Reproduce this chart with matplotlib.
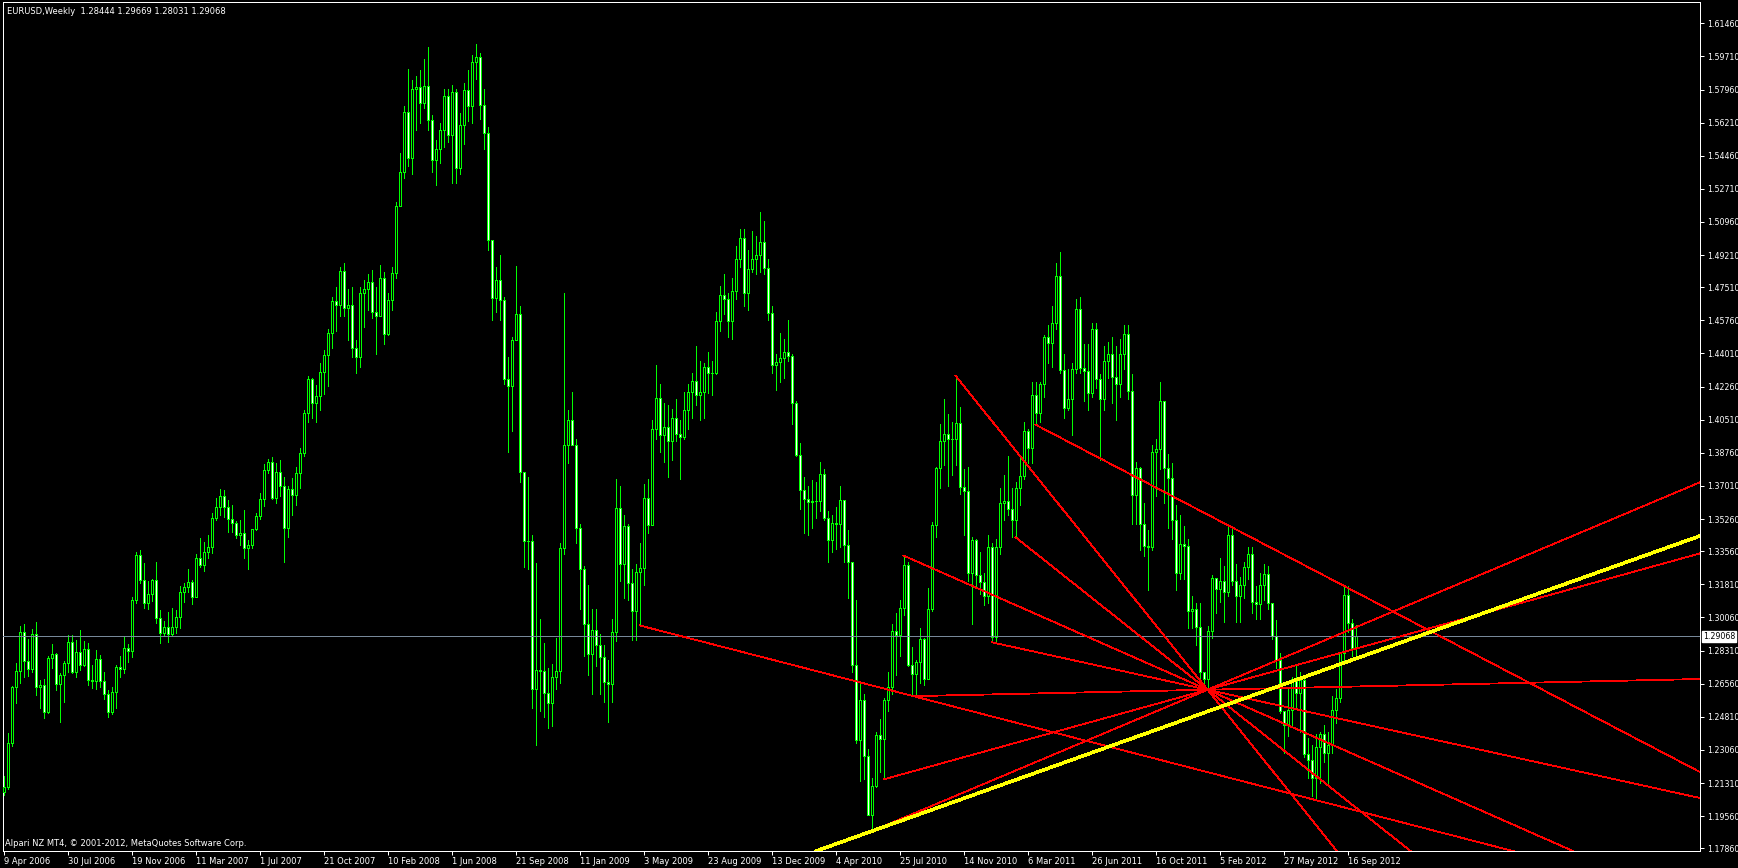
import numpy as np
import matplotlib
matplotlib.use("Agg")
import matplotlib.pyplot as plt
import matplotlib.transforms as mtransforms

# EURUSD weekly bars, bar 0 = week of 9 Apr 2006
first_open = 1.2085
closes = [
    1.2111, 1.2340, 1.2636, 1.2724, 1.2927, 1.2775, 1.2735, 1.2916, 1.2640, 1.2650,
    1.2508, 1.2793, 1.2812, 1.2652, 1.2700, 1.2763, 1.2874, 1.2719, 1.2825, 1.2754,
    1.2837, 1.2675, 1.2670, 1.2784, 1.2670, 1.2599, 1.2508, 1.2610, 1.2742, 1.2731,
    1.2842, 1.2830, 1.3098, 1.3336, 1.3204, 1.3080, 1.3128, 1.3204, 1.3001, 1.2922,
    1.2957, 1.2918, 1.2957, 1.3006, 1.3138, 1.3168, 1.3191, 1.3115, 1.3318, 1.3283,
    1.3353, 1.3380, 1.3530, 1.3591, 1.3649, 1.3591, 1.3524, 1.3507, 1.3441, 1.3450,
    1.3371, 1.3389, 1.3471, 1.3542, 1.3630, 1.3785, 1.3826, 1.3635, 1.3773, 1.3700,
    1.3477, 1.3686, 1.3652, 1.3769, 1.3874, 1.4088, 1.4268, 1.4138, 1.4178, 1.4302,
    1.4392, 1.4510, 1.4677, 1.4659, 1.4836, 1.4642, 1.4657, 1.4430, 1.4382, 1.4722,
    1.4742, 1.4777, 1.4622, 1.4599, 1.4801, 1.4505, 1.4682, 1.4829, 1.5178, 1.5360,
    1.5677, 1.5433, 1.5799, 1.5809, 1.5727, 1.5817, 1.5635, 1.5425, 1.5482, 1.5582,
    1.5764, 1.5557, 1.5782, 1.5380, 1.5610, 1.5792, 1.5707, 1.5941, 1.5968, 1.5712,
    1.5565, 1.5003, 1.4692, 1.4791, 1.4684, 1.4268, 1.4228, 1.4470, 1.4612, 1.3774,
    1.3412, 1.3412, 1.2626, 1.2726, 1.2721, 1.2609, 1.2555, 1.2691, 1.2722, 1.3372,
    1.3915, 1.4050, 1.3920, 1.3477, 1.3263, 1.2973, 1.2813, 1.2941, 1.2862, 1.2795,
    1.2667, 1.2653, 1.2931, 1.3583, 1.3287, 1.3487, 1.3186, 1.3041, 1.3245, 1.3268,
    1.3638, 1.3496, 1.4002, 1.4166, 1.3969, 1.4015, 1.3936, 1.4060, 1.3978, 1.3960,
    1.4100, 1.4200, 1.4257, 1.4184, 1.4200, 1.4330, 1.4300, 1.4300, 1.4573, 1.4711,
    1.4691, 1.4575, 1.4730, 1.4903, 1.5012, 1.4719, 1.4846, 1.4903, 1.4919, 1.4988,
    1.4855, 1.4615, 1.4339, 1.4355, 1.4375, 1.4411, 1.4386, 1.4137, 1.3864, 1.3678,
    1.3630, 1.3618, 1.3624, 1.3620, 1.3766, 1.3533, 1.3415, 1.3504, 1.3500, 1.3628,
    1.3388, 1.3299, 1.2754, 1.2358, 1.2571, 1.2275, 1.1964, 1.2116, 1.2387, 1.2364,
    1.2569, 1.2638, 1.2932, 1.2911, 1.3054, 1.3283, 1.2754, 1.2709, 1.2768, 1.2894,
    1.2682, 1.3050, 1.3495, 1.3795, 1.3940, 1.3977, 1.3951, 1.3951, 1.4033, 1.3693,
    1.3673, 1.3243, 1.3415, 1.3228, 1.3192, 1.3121, 1.3380, 1.2905, 1.3380, 1.3610,
    1.3620, 1.3577, 1.3521, 1.3688, 1.3755, 1.3993, 1.3904, 1.4184, 1.4089, 1.4238,
    1.4489, 1.4456, 1.4562, 1.4812, 1.4316, 1.4115, 1.4160, 1.4318, 1.4638, 1.4322,
    1.4311, 1.4193, 1.4529, 1.4264, 1.4159, 1.4359, 1.4400, 1.4278, 1.4240, 1.4400,
    1.4504, 1.4202, 1.3655, 1.3796, 1.3498, 1.3385, 1.3377, 1.3881, 1.3895, 1.4149,
    1.3796, 1.3745, 1.3523, 1.3239, 1.3394, 1.3385, 1.3041, 1.3050, 1.2957, 1.2717,
    1.2680, 1.2932, 1.3217, 1.3158, 1.3200, 1.3140, 1.3443, 1.3196, 1.3121, 1.3177,
    1.3272, 1.3343, 1.3089, 1.3079, 1.3180, 1.3235, 1.3083, 1.2909, 1.2781, 1.2513,
    1.2437, 1.2517, 1.2682, 1.2607, 1.2673, 1.2286, 1.2252, 1.2158, 1.2320, 1.2390,
    1.2290, 1.2330, 1.2517, 1.2579, 1.2819, 1.3126, 1.2979, 1.28444, 1.29068,
]
highs = [
    1.2168, 1.2393, 1.2643, 1.2763, 1.2960, 1.2974, 1.2890, 1.2943, 1.2980, 1.2675,
    1.2680, 1.2800, 1.2864, 1.2820, 1.2710, 1.2777, 1.2913, 1.2913, 1.2886, 1.2939,
    1.2880, 1.2870, 1.2755, 1.2833, 1.2805, 1.2719, 1.2625, 1.2640, 1.2755, 1.2801,
    1.2904, 1.2864, 1.3115, 1.3353, 1.3362, 1.3295, 1.3200, 1.3210, 1.3297, 1.3045,
    1.2988, 1.3035, 1.3057, 1.3045, 1.3171, 1.3186, 1.3260, 1.3202, 1.3341, 1.3424,
    1.3403, 1.3442, 1.3556, 1.3635, 1.3683, 1.3680, 1.3626, 1.3600, 1.3515, 1.3520,
    1.3574, 1.3415, 1.3476, 1.3556, 1.3662, 1.3817, 1.3843, 1.3852, 1.3820, 1.3838,
    1.3750, 1.3700, 1.3745, 1.3800, 1.3900, 1.4100, 1.4282, 1.4270, 1.4235, 1.4350,
    1.4420, 1.4530, 1.4700, 1.4750, 1.4860, 1.4880, 1.4740, 1.4750, 1.4470, 1.4750,
    1.4790, 1.4820, 1.4840, 1.4750, 1.4870, 1.4830, 1.4720, 1.4860, 1.5200, 1.5460,
    1.5710, 1.5902, 1.5845, 1.5870, 1.5900, 1.5960, 1.6019, 1.5660, 1.5530, 1.5620,
    1.5800, 1.5800, 1.5820, 1.5800, 1.5670, 1.5830, 1.5900, 1.5980, 1.6039, 1.5990,
    1.5800, 1.5600, 1.5000, 1.4860, 1.4920, 1.4700, 1.4380, 1.4490, 1.4866, 1.4650,
    1.3700, 1.3750, 1.3440, 1.3295, 1.3000, 1.2870, 1.2740, 1.2760, 1.2900, 1.3400,
    1.4721, 1.4100, 1.4200, 1.3950, 1.3500, 1.3280, 1.3180, 1.3050, 1.3050, 1.2920,
    1.2860, 1.2780, 1.3000, 1.3738, 1.3700, 1.3550, 1.3500, 1.3260, 1.3290, 1.3400,
    1.3710, 1.3740, 1.4050, 1.4340, 1.4240, 1.4140, 1.4130, 1.4110, 1.4160, 1.4050,
    1.4200, 1.4240, 1.4300, 1.4440, 1.4360, 1.4350, 1.4410, 1.4360, 1.4620, 1.4760,
    1.4820, 1.4720, 1.4800, 1.4970, 1.5060, 1.5060, 1.4950, 1.5050, 1.5020, 1.5149,
    1.5100, 1.4900, 1.4650, 1.4400, 1.4510, 1.4480, 1.4580, 1.4400, 1.4150, 1.3930,
    1.3750, 1.3700, 1.3730, 1.3720, 1.3830, 1.3790, 1.3570, 1.3550, 1.3590, 1.3700,
    1.3560, 1.3470, 1.3290, 1.3099, 1.2670, 1.2600, 1.2310, 1.2160, 1.2400, 1.2470,
    1.2580, 1.2720, 1.2970, 1.3030, 1.3100, 1.3333, 1.3300, 1.2850, 1.2780, 1.2950,
    1.2900, 1.3160, 1.3510, 1.3800, 1.4030, 1.4160, 1.4080, 1.4040, 1.4284, 1.4120,
    1.3790, 1.3800, 1.3430, 1.3420, 1.3350, 1.3240, 1.3440, 1.3400, 1.3420, 1.3690,
    1.3760, 1.3860, 1.3690, 1.3720, 1.3860, 1.4040, 1.4000, 1.4250, 1.4250, 1.4250,
    1.4500, 1.4550, 1.4650, 1.4880, 1.4940, 1.4400, 1.4320, 1.4350, 1.4690, 1.4700,
    1.4450, 1.4450, 1.4560, 1.4560, 1.4290, 1.4440, 1.4460, 1.4490, 1.4440, 1.4480,
    1.4550, 1.4550, 1.4290, 1.3830, 1.3800, 1.3610, 1.3470, 1.3920, 1.3950, 1.4249,
    1.4150, 1.3870, 1.3820, 1.3600, 1.3550, 1.3490, 1.3420, 1.3120, 1.3080, 1.3080,
    1.2720, 1.2960, 1.3230, 1.3210, 1.3320, 1.3280, 1.3486, 1.3480, 1.3290, 1.3220,
    1.3300, 1.3380, 1.3380, 1.3170, 1.3240, 1.3290, 1.3280, 1.3050, 1.2990, 1.2820,
    1.2500, 1.2630, 1.2690, 1.2750, 1.2720, 1.2690, 1.2370, 1.2330, 1.2390, 1.2400,
    1.2440, 1.2400, 1.2590, 1.2630, 1.2820, 1.3170, 1.3172, 1.3000, 1.29669,
]
lows = [
    1.2067, 1.2100, 1.2326, 1.2552, 1.2661, 1.2693, 1.2696, 1.2717, 1.2596, 1.2525,
    1.2476, 1.2499, 1.2737, 1.2622, 1.2455, 1.2560, 1.2719, 1.2710, 1.2693, 1.2728,
    1.2750, 1.2649, 1.2632, 1.2630, 1.2640, 1.2573, 1.2481, 1.2495, 1.2525, 1.2690,
    1.2712, 1.2773, 1.2798, 1.3084, 1.3190, 1.3056, 1.3051, 1.3091, 1.2978, 1.2869,
    1.2910, 1.2877, 1.2915, 1.2922, 1.2950, 1.3089, 1.3142, 1.3075, 1.3113, 1.3270,
    1.3254, 1.3318, 1.3345, 1.3519, 1.3547, 1.3538, 1.3459, 1.3459, 1.3427, 1.3389,
    1.3322, 1.3262, 1.3374, 1.3468, 1.3524, 1.3594, 1.3768, 1.3630, 1.3613, 1.3650,
    1.3300, 1.3430, 1.3550, 1.3600, 1.3690, 1.3860, 1.4040, 1.4060, 1.4040, 1.4100,
    1.4185, 1.4230, 1.4430, 1.4520, 1.4600, 1.4600, 1.4470, 1.4380, 1.4300, 1.4330,
    1.4540, 1.4630, 1.4590, 1.4400, 1.4610, 1.4450, 1.4500, 1.4630, 1.4800, 1.5200,
    1.5330, 1.5390, 1.5350, 1.5580, 1.5620, 1.5700, 1.5580, 1.5360, 1.5290, 1.5410,
    1.5490, 1.5520, 1.5300, 1.5300, 1.5350, 1.5510, 1.5630, 1.5620, 1.5850, 1.5640,
    1.5480, 1.4950, 1.4580, 1.4620, 1.4580, 1.4240, 1.3881, 1.3990, 1.4500, 1.3720,
    1.3270, 1.3260, 1.2530, 1.2334, 1.2510, 1.2480, 1.2420, 1.2430, 1.2630, 1.2660,
    1.3340, 1.3820, 1.3920, 1.3400, 1.3050, 1.2800, 1.2700, 1.2600, 1.2750, 1.2600,
    1.2560, 1.2456, 1.2560, 1.2880, 1.3200, 1.3110, 1.3100, 1.2885, 1.2888, 1.2964,
    1.3180, 1.3450, 1.3500, 1.3950, 1.3880, 1.3830, 1.3750, 1.3840, 1.3940, 1.3740,
    1.3950, 1.4000, 1.4060, 1.4130, 1.4050, 1.4060, 1.4190, 1.4180, 1.4290, 1.4520,
    1.4610, 1.4490, 1.4480, 1.4690, 1.4860, 1.4650, 1.4630, 1.4830, 1.4820, 1.4830,
    1.4820, 1.4580, 1.4300, 1.4210, 1.4250, 1.4270, 1.4360, 1.4030, 1.3860, 1.3580,
    1.3450, 1.3440, 1.3480, 1.3530, 1.3570, 1.3520, 1.3300, 1.3350, 1.3370, 1.3380,
    1.3300, 1.3110, 1.2720, 1.2340, 1.2140, 1.2150, 1.1960, 1.1876, 1.2110, 1.2190,
    1.2150, 1.2510, 1.2600, 1.2700, 1.2800, 1.3020, 1.2750, 1.2590, 1.2600, 1.2660,
    1.2650, 1.2740, 1.3040, 1.3430, 1.3690, 1.3810, 1.3700, 1.3760, 1.3810, 1.3660,
    1.3440, 1.3200, 1.2970, 1.3160, 1.3130, 1.3070, 1.3080, 1.2875, 1.2870, 1.3340,
    1.3520, 1.3550, 1.3430, 1.3430, 1.3600, 1.3740, 1.3820, 1.3820, 1.4025, 1.4040,
    1.4170, 1.4350, 1.4330, 1.4530, 1.4300, 1.4060, 1.4100, 1.3970, 1.4300, 1.4300,
    1.4150, 1.4100, 1.4170, 1.4220, 1.3840, 1.4100, 1.4270, 1.4140, 1.4050, 1.4170,
    1.4320, 1.4160, 1.3500, 1.3500, 1.3360, 1.3330, 1.3150, 1.3360, 1.3650, 1.3790,
    1.3610, 1.3480, 1.3420, 1.3150, 1.3210, 1.3210, 1.2950, 1.2950, 1.2860, 1.2660,
    1.2640, 1.2624, 1.2900, 1.3030, 1.3090, 1.2980, 1.3120, 1.3180, 1.2980, 1.2980,
    1.3110, 1.3210, 1.3030, 1.3000, 1.3000, 1.3100, 1.3050, 1.2890, 1.2740, 1.2500,
    1.2290, 1.2380, 1.2440, 1.2520, 1.2400, 1.2270, 1.2160, 1.2060, 1.2042, 1.2130,
    1.2240, 1.2130, 1.2290, 1.2450, 1.2560, 1.2760, 1.2930, 1.2800, 1.28031,
]
last_open = 1.28444
bid = 1.29068

date_bars = list(range(0, 337, 16))
date_labels = ["9 Apr 2006", "30 Jul 2006", "19 Nov 2006", "11 Mar 2007", "1 Jul 2007",
               "21 Oct 2007", "10 Feb 2008", "1 Jun 2008", "21 Sep 2008", "11 Jan 2009",
               "3 May 2009", "23 Aug 2009", "13 Dec 2009", "4 Apr 2010", "25 Jul 2010",
               "14 Nov 2010", "6 Mar 2011", "26 Jun 2011", "16 Oct 2011", "5 Feb 2012",
               "27 May 2012", "16 Sep 2012"]
price_levels = [1.61460, 1.59710, 1.57960, 1.56210, 1.54460, 1.52710, 1.50960, 1.49210,
                1.47510, 1.45760, 1.44010, 1.42260, 1.40510, 1.38760, 1.37010, 1.35260,
                1.33560, 1.31810, 1.30060, 1.28310, 1.26560, 1.24810, 1.23060, 1.21310,
                1.19560, 1.17860]

# red trend rays: start (bar, price) and a second point they pass through
red_start_bar = [238, 253, 258, 225, 227, 220, 217, 247, 159]
red_start_price = [1.4284, 1.3430, 1.4025, 1.3333, 1.2590, 1.2150, 1.1876, 1.2875, 1.2964]
red_thru_bar = [301, 301, 336, 301, 301, 301, 301, 301, 339]
red_thru_price = [1.2624, 1.2624, 1.3163, 1.2624, 1.2624, 1.2624, 1.2624, 1.2624, 1.1981]
# yellow support line
yellow_bar = [217, 424]
yellow_price = [1.1876, 1.3436]

W, H = 1738, 868
PX = 72 / 100  # one pixel in points
fig = plt.figure(figsize=(W / 100, H / 100), dpi=100, facecolor="black")
ax = fig.add_axes([3 / W, (H - 851) / H, (1700 - 3) / W, (851 - 2) / H])
ax.set_facecolor("black")
# 4 px per bar, bar centres on pixel centres
ax.set_xlim(-0.125, -0.125 + 1697 / 4)
ax.set_ylim(1.17717, 1.62586)

c = np.array(closes)
hi = np.array(highs)
lo = np.array(lows)
o = np.r_[first_open, c[:-1]]
o[-1] = last_open
x = np.arange(len(c))
hi = np.maximum(hi, np.maximum(o, c))
lo = np.minimum(lo, np.minimum(o, c))

green = "#00FF00"
ax.vlines(x, lo, hi, color=green, lw=PX, zorder=2, antialiased=False)
fills = np.where(c >= o, "black", "white")
ax.bar(x, np.abs(c - o), bottom=np.minimum(o, c), width=0.5, color=fills,
       edgecolor=green, linewidth=PX, zorder=3, antialiased=False)

ax.axhline(bid, color="#778899", lw=PX, zorder=4, antialiased=False)

for b0, p0, b1, p1 in zip(red_start_bar, red_start_price, red_thru_bar, red_thru_price):
    slope = (p1 - p0) / (b1 - b0)
    ax.plot([b0, 440], [p0, p0 + slope * (440 - b0)], color="#FF0000", lw=0.8 * PX,
            zorder=5, antialiased=False)
ax.axline((yellow_bar[0], yellow_price[0]), (yellow_bar[1], yellow_price[1]),
          color="#FFFF00", lw=2.5 * PX, zorder=6, antialiased=False)

for s in ax.spines.values():
    s.set_color("white")
    s.set_linewidth(PX)

ax.yaxis.tick_right()
ax.set_yticks(price_levels)
ax.set_yticklabels([f"{v:.5f}" for v in price_levels])
ax.tick_params(axis="y", colors="white", labelsize=5.7, length=3, width=PX, pad=2)
ax.set_xticks(date_bars)
ax.set_xticklabels(date_labels)
ax.tick_params(axis="x", colors="white", labelsize=6, length=3, width=PX, pad=1)
shift = mtransforms.ScaledTranslation(1 / 100, 0, fig.dpi_scale_trans)
for lab in ax.get_xticklabels():
    lab.set_horizontalalignment("left")
    lab.set_transform(lab.get_transform() + shift)

trans = mtransforms.blended_transform_factory(ax.transAxes, ax.transData)
ax.text(1.0, bid, "1.29068", transform=trans + mtransforms.ScaledTranslation(3 / 100, 0, fig.dpi_scale_trans),
        ha="left", va="center", fontsize=5.7, color="black", clip_on=False,
        bbox=dict(facecolor="white", edgecolor="white", pad=0.8))

fig.text(7 / W, 1 - 11 / H, "EURUSD,Weekly  1.28444 1.29669 1.28031 1.29068",
         color="white", fontsize=6, va="center", ha="left")
fig.text(5 / W, 1 - 844 / H, "Alpari NZ MT4, © 2001-2012, MetaQuotes Software Corp.",
         color="white", fontsize=6, va="center", ha="left")

fig.savefig("out.png", dpi=100, facecolor="black")
